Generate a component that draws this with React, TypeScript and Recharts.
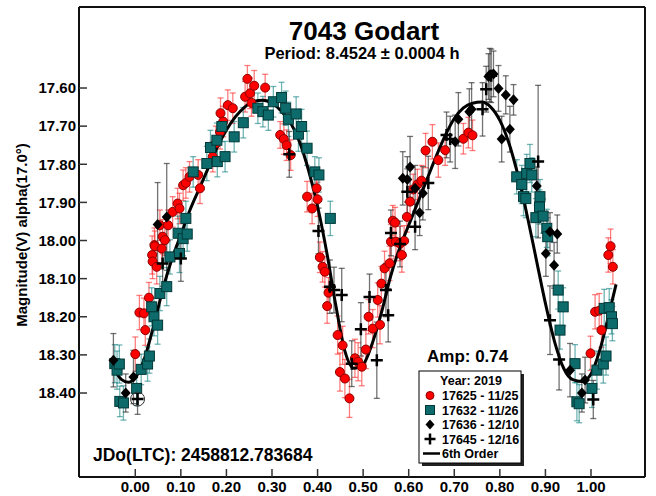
import React from 'react';
import { ComposedChart, Scatter, Line, XAxis, YAxis, ErrorBar, ReferenceDot } from 'recharts';

// phase, magnitude, 1-sigma error
const night1125: number[][] = [
  [0.000, 18.298, 0.045], [0.009, 18.189, 0.045], [0.019, 18.191, 0.04], [0.022, 18.235, 0.04],
  [0.030, 18.150, 0.04], [0.037, 18.038, 0.05], [0.038, 18.055, 0.045], [0.042, 18.012, 0.045],
  [0.043, 18.015, 0.04], [0.047, 18.069, 0.045], [0.054, 17.960, 0.04], [0.058, 18.021, 0.04],
  [0.060, 17.990, 0.045], [0.065, 17.999, 0.04], [0.072, 17.960, 0.04], [0.082, 17.925, 0.04],
  [0.093, 17.903, 0.04], [0.097, 17.916, 0.04], [0.105, 17.855, 0.04], [0.111, 17.849, 0.04],
  [0.119, 17.833, 0.04], [0.138, 17.828, 0.04], [0.142, 17.863, 0.04], [0.170, 17.780, 0.04],
  [0.177, 17.745, 0.045], [0.186, 17.715, 0.045], [0.187, 17.666, 0.04], [0.193, 17.688, 0.04],
  [0.203, 17.645, 0.04], [0.214, 17.653, 0.04], [0.241, 17.623, 0.04], [0.246, 17.576, 0.035],
  [0.252, 17.614, 0.04], [0.255, 17.639, 0.035], [0.261, 17.594, 0.04], [0.285, 17.599, 0.035],
  [0.318, 17.723, 0.035], [0.326, 17.734, 0.04], [0.332, 17.750, 0.04], [0.341, 17.776, 0.04],
  [0.377, 17.885, 0.04], [0.388, 17.916, 0.04], [0.398, 17.863, 0.04], [0.400, 17.892, 0.045],
  [0.405, 18.044, 0.04], [0.411, 18.069, 0.04], [0.416, 18.082, 0.04], [0.421, 18.172, 0.045],
  [0.424, 18.137, 0.04], [0.444, 18.248, 0.05], [0.455, 18.275, 0.05], [0.449, 18.345, 0.05],
  [0.460, 18.362, 0.05], [0.470, 18.414, 0.05], [0.482, 18.309, 0.05], [0.489, 18.318, 0.05],
  [0.497, 18.331, 0.05], [0.506, 18.286, 0.05], [0.512, 18.200, 0.045], [0.521, 18.231, 0.05],
  [0.532, 18.156, 0.045], [0.537, 18.221, 0.05], [0.540, 18.113, 0.045], [0.547, 18.073, 0.045],
  [0.558, 18.060, 0.045], [0.561, 18.003, 0.045], [0.565, 17.948, 0.04], [0.570, 17.953, 0.04],
  [0.572, 18.003, 0.04], [0.581, 18.008, 0.045], [0.585, 18.038, 0.045], [0.590, 18.001, 0.04],
  [0.596, 17.938, 0.04], [0.603, 17.898, 0.04], [0.610, 17.866, 0.04], [0.619, 17.853, 0.04],
  [0.628, 17.843, 0.04], [0.637, 17.764, 0.045], [0.652, 17.741, 0.045], [0.665, 17.789, 0.045],
  [0.680, 17.763, 0.04], [0.720, 17.733, 0.04], [0.731, 17.717, 0.04], [0.740, 17.724, 0.04],
  [0.999, 18.296, 0.045], [1.009, 18.187, 0.045], [1.018, 18.184, 0.045], [1.023, 18.235, 0.045],
  [1.038, 18.038, 0.045], [1.043, 18.015, 0.045], [1.048, 18.069, 0.045],
];

const night1126: number[][] = [
  [-0.045, 18.323, 0.05], [-0.040, 18.340, 0.05], [-0.035, 18.324, 0.05], [-0.034, 18.422, 0.04],
  [-0.026, 18.426, 0.045], [0.003, 18.388, 0.045], [0.013, 18.338, 0.04], [0.027, 18.324, 0.045],
  [0.031, 18.303, 0.045], [0.036, 18.174, 0.05], [0.041, 18.200, 0.05], [0.049, 18.222, 0.05],
  [0.054, 18.139, 0.045], [0.069, 18.121, 0.05], [0.076, 18.043, 0.045], [0.094, 17.981, 0.045],
  [0.097, 18.034, 0.05], [0.105, 17.995, 0.045], [0.111, 17.942, 0.045], [0.114, 17.983, 0.045],
  [0.127, 17.820, 0.04], [0.157, 17.798, 0.045], [0.165, 17.756, 0.045], [0.179, 17.737, 0.045],
  [0.180, 17.793, 0.04], [0.190, 17.701, 0.04], [0.197, 17.780, 0.04], [0.217, 17.728, 0.04],
  [0.237, 17.691, 0.04], [0.269, 17.653, 0.04], [0.280, 17.662, 0.04], [0.292, 17.671, 0.04],
  [0.303, 17.636, 0.04], [0.321, 17.625, 0.04], [0.330, 17.653, 0.045], [0.336, 17.682, 0.045],
  [0.353, 17.668, 0.045], [0.358, 17.721, 0.045], [0.365, 17.701, 0.045], [0.377, 17.758, 0.045],
  [0.394, 17.820, 0.04], [0.403, 17.828, 0.045], [0.428, 17.942, 0.045],
  [0.837, 17.833, 0.045], [0.848, 17.853, 0.05], [0.852, 17.885, 0.05], [0.857, 17.890, 0.05],
  [0.859, 17.824, 0.05], [0.866, 17.798, 0.05], [0.870, 17.828, 0.045], [0.879, 17.940, 0.05],
  [0.887, 17.912, 0.045], [0.888, 17.885, 0.045], [0.895, 17.936, 0.045], [0.903, 17.968, 0.05],
  [0.905, 17.990, 0.05], [0.928, 18.130, 0.05], [0.932, 18.235, 0.05], [0.939, 18.174, 0.05],
  [0.965, 18.323, 0.05], [0.969, 18.423, 0.05], [0.974, 18.428, 0.05], [1.002, 18.388, 0.05],
  [1.013, 18.340, 0.05], [1.027, 18.324, 0.05], [1.033, 18.303, 0.05], [1.029, 18.178, 0.05],
  [1.040, 18.176, 0.05], [1.045, 18.200, 0.045], [1.047, 18.218, 0.045],
];

const night1210: number[][] = [
  [-0.048, 18.314, 0.07], [-0.021, 18.400, 0.05], [-0.004, 18.358, 0.07], [0.049, 17.958, 0.11],
  [0.069, 17.938, 0.14], [0.587, 17.837, 0.07], [0.597, 17.840, 0.06], [0.603, 17.807, 0.08],
  [0.614, 17.863, 0.06], [0.624, 17.927, 0.06], [0.631, 17.876, 0.07], [0.702, 17.741, 0.07],
  [0.709, 17.682, 0.07], [0.733, 17.662, 0.06], [0.738, 17.656, 0.07], [0.775, 17.570, 0.06],
  [0.778, 17.566, 0.07], [0.786, 17.563, 0.06], [0.797, 17.601, 0.06], [0.804, 17.734, 0.06],
  [0.813, 17.618, 0.05], [0.822, 17.708, 0.06], [0.830, 17.631, 0.04], [0.881, 17.857, 0.05],
  [0.901, 18.034, 0.06], [0.910, 17.977, 0.05], [0.926, 17.983, 0.05], [0.919, 18.065, 0.06],
  [0.954, 18.340, 0.07], [0.980, 18.400, 0.05], [0.987, 18.366, 0.06],
];

const night1216: number[][] = [
  [0.005, 18.416, 0.04], [0.060, 18.060, 0.06], [0.100, 18.047, 0.06], [0.338, 17.774, 0.06],
  [0.402, 17.975, 0.06], [0.427, 18.121, 0.07], [0.436, 18.130, 0.06], [0.453, 18.143, 0.07],
  [0.475, 18.323, 0.06], [0.495, 18.233, 0.07], [0.514, 18.148, 0.06], [0.530, 18.314, 0.1],
  [0.550, 18.130, 0.07], [0.555, 18.196, 0.07], [0.561, 17.980, 0.06], [0.581, 18.009, 0.06],
  [0.597, 17.872, 0.06], [0.614, 17.964, 0.06], [0.643, 17.849, 0.07], [0.683, 17.723, 0.06],
  [0.691, 17.734, 0.06], [0.762, 17.656, 0.07], [0.770, 17.603, 0.06], [0.781, 17.568, 0.07],
  [0.884, 17.793, 0.2], [0.910, 18.209, 0.09], [0.930, 18.312, 0.08], [1.005, 18.417, 0.05],
];

// 6th order Fourier fit, sampled in phase
const fitPhase = [
  -0.05, -0.03, -0.015, 0.0, 0.02, 0.04, 0.06, 0.08, 0.1, 0.12, 0.14, 0.16, 0.18, 0.2, 0.22,
  0.24, 0.26, 0.28, 0.3, 0.32, 0.34, 0.36, 0.38, 0.4, 0.42, 0.44, 0.46, 0.48, 0.5, 0.52, 0.54,
  0.56, 0.58, 0.6, 0.62, 0.64, 0.66, 0.68, 0.7, 0.72, 0.74, 0.76, 0.78, 0.8, 0.82, 0.84, 0.86,
  0.88, 0.9, 0.92, 0.94, 0.96, 0.98, 1.0, 1.02, 1.04, 1.055,
];
const fitMag = [
  18.33, 18.365, 18.372, 18.36, 18.31, 18.225, 18.13, 18.05, 17.985, 17.92, 17.865, 17.81,
  17.755, 17.71, 17.675, 17.65, 17.635, 17.632, 17.64, 17.66, 17.69, 17.74, 17.815, 17.91,
  18.03, 18.17, 18.29, 18.335, 18.325, 18.27, 18.19, 18.095, 18.02, 17.96, 17.9, 17.84, 17.78,
  17.725, 17.68, 17.652, 17.64, 17.637, 17.65, 17.685, 17.745, 17.83, 17.935, 18.05, 18.165,
  18.265, 18.335, 18.365, 18.37, 18.35, 18.285, 18.19, 18.115,
];

// outlier marked with a ring
const ringedPoint = { phase: 0.005, mag: 18.416 };

const phaseTicks = [0, 0.1, 0.2, 0.3, 0.4, 0.5, 0.6, 0.7, 0.8, 0.9, 1.0];
const magTicks = [17.6, 17.7, 17.8, 17.9, 18.0, 18.1, 18.2, 18.3, 18.4];

const legendRows = ['17625 - 11/25', '17632 - 11/26', '17636 - 12/10', '17645 - 12/16'];

const FONT = 'Arial, "Liberation Sans", sans-serif';

const toRows = (rows: number[][]) => rows.map(([phase, mag, err]) => ({ phase, mag, err }));
const fitData = fitPhase.map((phase, i) => ({ phase, mag: fitMag[i] }));

const RedDot = (p: any) => (
  <circle cx={p.cx} cy={p.cy} r={4.5} fill="#ff0000" stroke="#8a0000" strokeWidth={1} />
);
const TealSquare = (p: any) => (
  <rect x={p.cx - 5} y={p.cy - 5} width={10} height={10} fill="#0d6b6b" stroke="#023838" strokeWidth={1} />
);
const Diamond = (p: any) => (
  <path d={`M${p.cx},${p.cy - 5.5}L${p.cx + 5},${p.cy}L${p.cx},${p.cy + 5.5}L${p.cx - 5},${p.cy}Z`} fill="#000" />
);
const Plus = (p: any) => (
  <path d={`M${p.cx - 6},${p.cy}H${p.cx + 6}M${p.cx},${p.cy - 6}V${p.cy + 6}`} stroke="#000" strokeWidth={2.5} />
);

const fmt = (v: number) => v.toFixed(2);

export default function App() {
  return (
    <div style={{ position: 'absolute', left: 0, top: 0, width: 656, height: 496, background: '#fff' }}>
      <ComposedChart width={656} height={496} margin={{ top: 0, right: 0, bottom: 0, left: 0 }}>
        <XAxis
          dataKey="phase"
          type="number"
          domain={[-0.1235, 1.1185]}
          allowDataOverflow
          ticks={phaseTicks}
          tickFormatter={fmt}
          height={19}
          tickSize={-8}
          tickMargin={12}
          axisLine={{ stroke: '#111', strokeWidth: 2 }}
          tickLine={{ stroke: '#333', strokeWidth: 1.5 }}
          tick={{ fill: '#000', fontSize: 15, fontWeight: 'bold', fontFamily: FONT }}
        />
        <XAxis
          xAxisId="top"
          orientation="top"
          type="number"
          domain={[-0.1235, 1.1185]}
          allowDataOverflow
          ticks={phaseTicks}
          height={7}
          tickSize={-8}
          tick={false}
          axisLine={{ stroke: '#111', strokeWidth: 2 }}
          tickLine={{ stroke: '#333', strokeWidth: 1.5 }}
        />
        <YAxis
          dataKey="mag"
          type="number"
          reversed
          domain={[17.3875, 18.6203]}
          allowDataOverflow
          ticks={magTicks}
          tickFormatter={fmt}
          width={79}
          tickSize={-8}
          tickMargin={11}
          axisLine={{ stroke: '#111', strokeWidth: 2 }}
          tickLine={{ stroke: '#333', strokeWidth: 1.5 }}
          tick={{ fill: '#000', fontSize: 15, fontWeight: 'bold', fontFamily: FONT }}
        />
        <YAxis
          yAxisId="right"
          orientation="right"
          type="number"
          reversed
          domain={[17.3875, 18.6203]}
          allowDataOverflow
          ticks={magTicks}
          width={11}
          tickSize={-8}
          tick={false}
          axisLine={{ stroke: '#111', strokeWidth: 2 }}
          tickLine={{ stroke: '#333', strokeWidth: 1.5 }}
        />

        <Scatter data={toRows(night1125)} dataKey="mag" shape={RedDot} isAnimationActive={false}>
          <ErrorBar dataKey="err" direction="y" width={3} stroke="rgba(255,40,40,0.6)" strokeWidth={1.3} />
        </Scatter>
        <Scatter data={toRows(night1126)} dataKey="mag" shape={TealSquare} isAnimationActive={false}>
          <ErrorBar dataKey="err" direction="y" width={3} stroke="rgba(20,130,130,0.6)" strokeWidth={1.3} />
        </Scatter>
        <Scatter data={toRows(night1210)} dataKey="mag" shape={Diamond} isAnimationActive={false}>
          <ErrorBar dataKey="err" direction="y" width={3} stroke="rgba(40,40,40,0.65)" strokeWidth={1.3} />
        </Scatter>
        <Scatter data={toRows(night1216)} dataKey="mag" shape={Plus} isAnimationActive={false}>
          <ErrorBar dataKey="err" direction="y" width={3} stroke="rgba(40,40,40,0.65)" strokeWidth={1.3} />
        </Scatter>
        <Line
          data={fitData}
          dataKey="mag"
          type="monotone"
          stroke="#000"
          strokeWidth={3}
          dot={false}
          activeDot={false}
          isAnimationActive={false}
        />
        <ReferenceDot
          x={ringedPoint.phase}
          y={ringedPoint.mag}
          r={7}
          fill="none"
          stroke="#333"
          strokeWidth={1}
        />
      </ComposedChart>

      <svg
        width={656}
        height={496}
        style={{ position: 'absolute', left: 0, top: 0, pointerEvents: 'none' }}
        fontFamily={FONT}
        fontWeight="bold"
      >
        <text x={364} y={40} fontSize={26} textAnchor="middle">7043 Godart</text>
        <text x={362} y={59} fontSize={16.5} textAnchor="middle">Period: 8.4524 ± 0.0004 h</text>
        <text x={427} y={362} fontSize={17}>Amp: 0.74</text>
        <text x={93} y={461} fontSize={17.5}>JDo(LTC): 2458812.783684</text>
        <text x={27} y={235} fontSize={15} textAnchor="middle" transform="rotate(-90 27 235)">
          Magnitude(V) alpha(17.0°)
        </text>

        <rect x={422} y={374} width={102} height={92} fill="#222" />
        <rect x={419} y={371} width={102} height={92} fill="#fff" stroke="#000" strokeWidth={1} />
        <text x={471} y={385} fontSize={12.5} textAnchor="middle">Year: 2019</text>
        <circle cx={430} cy={395.5} r={4} fill="#ff0000" stroke="#8a0000" />
        <rect x={425.5} y={405.5} width={9} height={9} fill="#0d6b6b" stroke="#023838" />
        <path d="M430,419.5L434.5,424.5L430,429.5L425.5,424.5Z" fill="#000" />
        <path d="M424.5,439H435.5M430,433.5V444.5" stroke="#000" strokeWidth={2.5} />
        <line x1={423} y1={453.5} x2={440} y2={453.5} stroke="#000" strokeWidth={2.5} />
        {legendRows.map((label, i) => (
          <text key={label} x={442} y={400 + i * 14.5} fontSize={12.5}>{label}</text>
        ))}
        <text x={442} y={458} fontSize={12.5}>6th Order</text>
      </svg>
    </div>
  );
}
